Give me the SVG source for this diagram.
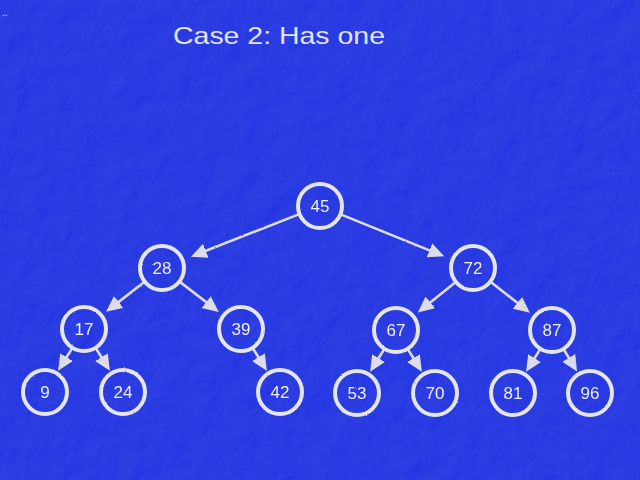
<svg xmlns="http://www.w3.org/2000/svg" width="640" height="480" viewBox="0 0 640 480">
<defs>
<filter id="tex" x="0" y="0" width="100%" height="100%">
<feTurbulence type="fractalNoise" baseFrequency="0.035" numOctaves="4" seed="3" result="n"/>
<feDiffuseLighting in="n" surfaceScale="2.5" lighting-color="#ffffff" result="l">
<feDistantLight azimuth="225" elevation="55"/>
</feDiffuseLighting>
<feColorMatrix in="l" type="matrix" values="0 0 0 0 0.6  0 0 0 0 0.7  0 0 0 0 1  0.22 0 0 0 -0.14"/>
</filter>
<filter id="chalk" x="-10%" y="-10%" width="120%" height="120%">
<feTurbulence type="fractalNoise" baseFrequency="0.9" numOctaves="2" seed="5" result="t"/>
<feDisplacementMap in="SourceGraphic" in2="t" scale="1.6" xChannelSelector="R" yChannelSelector="G"/>
</filter>
<marker id="arr" markerUnits="userSpaceOnUse" markerWidth="17" markerHeight="16" refX="6" refY="7.5" orient="auto">
<path d="M0,0 L16,7.5 L0,15 z" fill="#dcdde8"/>
</marker>
<style>
.node circle{fill:none;stroke:#e4e5ee;stroke-width:4}
.node text{font-family:"Liberation Sans","DejaVu Sans",sans-serif;font-size:17px;fill:#eeeef4;text-anchor:middle;dominant-baseline:central}
.edge{stroke:#dcdde8;stroke-width:2.6;fill:none;marker-end:url(#arr)}
.title{font-family:"Liberation Sans","DejaVu Sans",sans-serif;font-size:24px;fill:#e4e4ef}
</style>
</defs>
<rect width="640" height="480" fill="#2335e0"/>
<rect width="640" height="480" filter="url(#tex)"/>
<text x="2" y="16" font-family="Liberation Sans, sans-serif" font-size="10" fill="#e4e4ef">..</text>
<text class="title" x="173" y="44" textLength="212" lengthAdjust="spacingAndGlyphs">Case 2: Has one</text>
<g filter="url(#chalk)">
<g id="connectors">
<line class="edge" x1="298.6" y1="214.4" x2="200.2" y2="253.0"/>
<line class="edge" x1="341.3" y1="214.6" x2="435.0" y2="252.6"/>
<line class="edge" x1="143.9" y1="282.2" x2="113.9" y2="305.6"/>
<line class="edge" x1="180.2" y1="282.1" x2="210.9" y2="305.8"/>
<line class="edge" x1="455.1" y1="282.4" x2="425.6" y2="306.2"/>
<line class="edge" x1="491.1" y1="282.2" x2="522.1" y2="306.5"/>
<line class="edge" x1="71.9" y1="348.6" x2="63.4" y2="362.2"/>
<line class="edge" x1="96.1" y1="348.6" x2="104.6" y2="362.2"/>
<line class="edge" x1="253.1" y1="348.6" x2="261.6" y2="362.2"/>
<line class="edge" x1="383.9" y1="349.6" x2="375.4" y2="363.2"/>
<line class="edge" x1="408.1" y1="349.6" x2="416.6" y2="363.2"/>
<line class="edge" x1="539.9" y1="349.6" x2="531.4" y2="363.2"/>
<line class="edge" x1="563.9" y1="349.7" x2="571.9" y2="363.0"/>
</g>
<g id="n45" class="node"><circle cx="320" cy="206" r="22"/><text x="320" y="206">45</text></g>
<g id="n28" class="node"><circle cx="162" cy="268" r="22"/><text x="162" y="268">28</text></g>
<g id="n72" class="node"><circle cx="473" cy="268" r="22"/><text x="473" y="268">72</text></g>
<g id="n17" class="node"><circle cx="84" cy="329" r="22"/><text x="84" y="329">17</text></g>
<g id="n39" class="node"><circle cx="241" cy="329" r="22"/><text x="241" y="329">39</text></g>
<g id="n67" class="node"><circle cx="396" cy="330" r="22"/><text x="396" y="330">67</text></g>
<g id="n87" class="node"><circle cx="552" cy="330" r="22"/><text x="552" y="330">87</text></g>
<g id="n9" class="node"><circle cx="45" cy="392" r="22"/><text x="45" y="392">9</text></g>
<g id="n24" class="node"><circle cx="123" cy="392" r="22"/><text x="123" y="392">24</text></g>
<g id="n42" class="node"><circle cx="280" cy="392" r="22"/><text x="280" y="392">42</text></g>
<g id="n53" class="node"><circle cx="357" cy="393" r="22"/><text x="357" y="393">53</text></g>
<g id="n70" class="node"><circle cx="435" cy="393" r="22"/><text x="435" y="393">70</text></g>
<g id="n81" class="node"><circle cx="513" cy="393" r="22"/><text x="513" y="393">81</text></g>
<g id="n96" class="node"><circle cx="590" cy="393" r="22"/><text x="590" y="393">96</text></g>
</g>
</svg>
